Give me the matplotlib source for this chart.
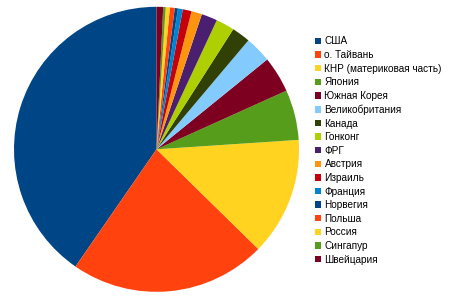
import matplotlib
matplotlib.use('Agg')
import matplotlib.pyplot as plt
from matplotlib.patches import Patch

countries = ['США', 'о. Тайвань', 'КНР (материковая часть)', 'Япония', 'Южная Корея',
             'Великобритания', 'Канада', 'Гонконг', 'ФРГ', 'Австрия', 'Израиль',
             'Франция', 'Норвегия', 'Польша', 'Россия', 'Сингапур', 'Швейцария']
shares = [40.4, 22.3, 13.4, 5.7, 4.1, 3.0, 2.1, 2.1, 1.8, 1.2, 1.0,
          0.55, 0.36, 0.55, 0.47, 0.28, 0.75]
colors = ['#004586', '#ff420e', '#ffd320', '#579d1c', '#7e0021', '#83caff',
          '#314004', '#aecf00', '#4b1f6f', '#ff950e', '#c5000b', '#0084d1',
          '#004586', '#ff420e', '#ffd320', '#579d1c', '#7e0021']

plt.rcParams['font.family'] = ['Liberation Sans', 'DejaVu Sans']

fig = plt.figure(figsize=(4.5, 2.99), dpi=100, facecolor='white')
ax = fig.add_axes([14 / 450, 7.2 / 299, 285 / 450, 285 / 299])
ax.pie(shares, colors=colors, startangle=90, counterclock=True,
       wedgeprops={'linewidth': 0})
ax.set_xlim(-1, 1)
ax.set_ylim(-1, 1)
ax.set_aspect('equal')

handles = [Patch(facecolor=c, edgecolor='none') for c in colors]
fig.legend(handles, countries, loc='upper left',
           bbox_to_anchor=(315 / 450, 1 - 36.5 / 299),
           frameon=False, fontsize=7.2, handlelength=0.6, handleheight=0.6,
           handletextpad=0.35, labelspacing=0.36, borderpad=0, borderaxespad=0)

fig.savefig('out.png', dpi=100)
